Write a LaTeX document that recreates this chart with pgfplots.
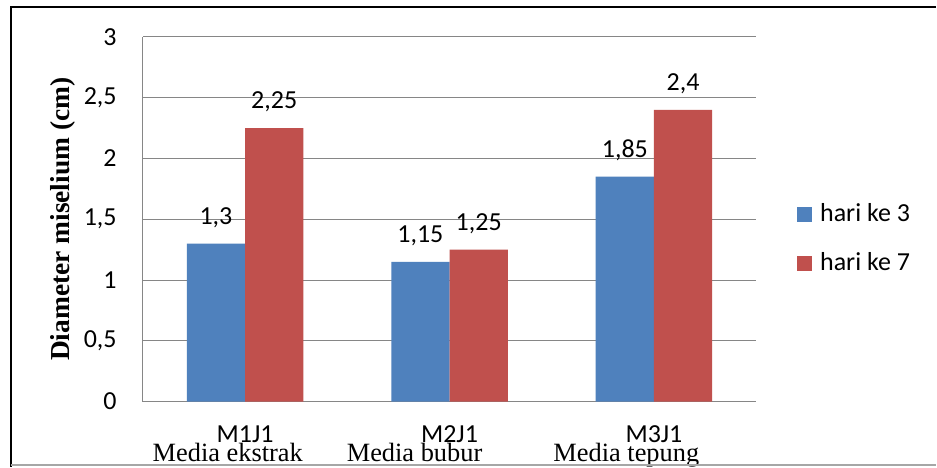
\documentclass[border=0pt]{standalone}
\usepackage{pgfplots}
\pgfplotsset{compat=1.18}
\usepackage{fontspec}
\setmainfont{Carlito}
\newfontfamily\timesf{Liberation Serif}
\definecolor{cblue}{HTML}{4F81BD}
\definecolor{cred}{HTML}{C0504D}
\definecolor{axgray}{HTML}{868686}
\definecolor{bgray}{HTML}{A6A6A6}
\newcommand\fs{\fontsize{19.5pt}{23pt}\selectfont}
\begin{document}
\begin{tikzpicture}
\begin{scope}[x=0.75pt,y=-0.75pt]
\fill[white] (0,0) rectangle (937,467);
\path[use as bounding box] (0,0) rectangle (937,467);
\end{scope}
\begin{axis}[
  at={(107.25pt,-301.5pt)}, anchor=south west,
  scale only axis, width=460.5pt, height=273.75pt,
  xmin=-0.5, xmax=2.5, ymin=0, ymax=3, enlargelimits=false,
  axis x line=bottom, axis y line=left,
  axis line style={-, draw=axgray, line width=0.75pt},
  ymajorgrids, grid style={draw=axgray, line width=0.75pt},
  major tick length=0pt,
  xtick={0,1,2}, xticklabels={M1J1,M2J1,M3J1},
  ytick={0,0.5,1,1.5,2,2.5,3},
  /pgf/number format/.cd, use comma, 1000 sep={}, assume math mode=true, /pgfplots/.cd,
  yticklabel style={font=\fs, anchor=east, inner sep=0pt, xshift=-19.5pt},
  xticklabel style={font=\fs, anchor=base, inner sep=0pt, text depth=0pt, yshift=-30.5pt},
  ylabel={Diameter miselium (cm)},
  every axis y label/.style={at={(axis description cs:-0.1300,0.5)}, rotate=90, anchor=center, font=\timesf\bfseries\fontsize{20.6pt}{24pt}\selectfont},
  ybar=0pt, bar width=0.285,
  nodes near coords,
  every node near coord/.append style={font=\fs, anchor=base, inner sep=0pt, yshift=14.5pt, text=black},
  legend style={at={(1.0668,0.4493)}, anchor=west, draw=none, fill=none, inner sep=0pt, outer sep=0pt,
    row sep=21.75pt, column sep=6pt, font=\fs,
    nodes={inner sep=0pt, text height=14pt, text depth=1pt, anchor=base west}},
  legend cell align=left,
  legend image code/.code={\fill[#1] (0pt,0pt) rectangle (11.25pt,11.25pt);},
]
\addplot[fill=cblue, draw=none] coordinates {(0,1.3) (1,1.15) (2,1.85)};
\addplot[fill=cred, draw=none] coordinates {(0,2.25) (1,1.25) (2,2.4)};
\legend{hari ke 3, hari ke 7}
\end{axis}
\begin{scope}[x=0.75pt,y=-0.75pt]
\node[anchor=base, font=\timesf\fontsize{19.8pt}{23pt}\selectfont, inner sep=0pt, text height=12.5pt] at (228,462) {Media ekstrak};
\node[anchor=base, font=\timesf\fontsize{19.8pt}{23pt}\selectfont, inner sep=0pt, text height=12.5pt] at (415,462) {Media bubur};
\node[anchor=base, font=\timesf\fontsize{19.8pt}{23pt}\selectfont, inner sep=0pt, text height=12.5pt] at (627,462) {Media tepung};
\draw[black, line width=1.5pt] (11,467) -- (11,7) -- (937,7);
\draw[bgray, line width=1.1pt] (11,465.5) -- (937,465.5);
\end{scope}
\end{tikzpicture}
\end{document}
